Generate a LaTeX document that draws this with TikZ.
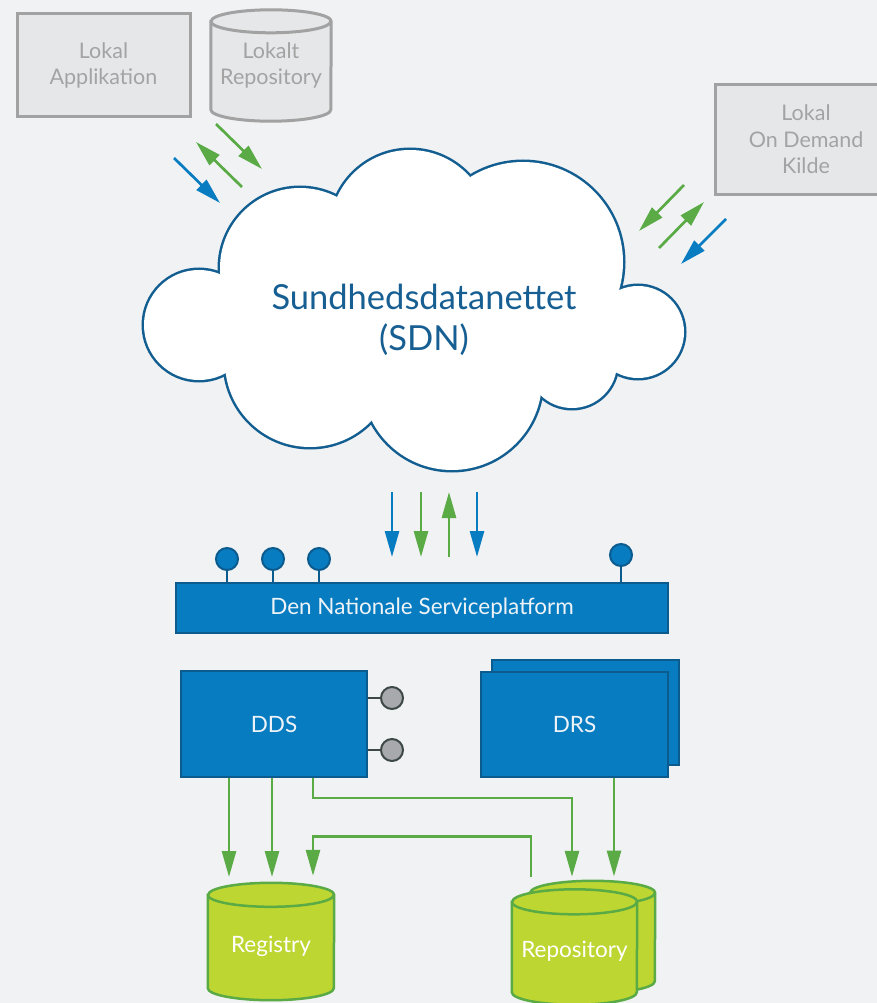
\documentclass[tikz,border=0pt]{standalone}
\usepackage{fontspec}
\setmainfont{Lato}
\usetikzlibrary{arrows.meta,positioning,backgrounds}

\definecolor{bgcol}{HTML}{F1F2F4}
\definecolor{localfill}{HTML}{E6E7E9}
\definecolor{localline}{HTML}{A2A2A2}
\definecolor{localtext}{HTML}{A3A3A3}
\definecolor{nspblue}{HTML}{087CC1}
\definecolor{nspline}{HTML}{0B5B8E}
\definecolor{nsptext}{HTML}{EEF3F8}
\definecolor{cloudline}{HTML}{135E91}
\definecolor{cloudtext}{HTML}{175F92}
\definecolor{flowgreen}{HTML}{5AAA46}
\definecolor{limefill}{HTML}{BDD631}
\definecolor{portgrey}{HTML}{A7A9AC}
\definecolor{portline}{HTML}{3D4846}

% outline of a database drum round a node: node, x radius, y radius, style
\newcommand{\drum}[4]{%
  \begin{scope}[on background layer]
    \path[#4] ([yshift=-#3]#1.north west) -- ([yshift=#3]#1.south west)
      arc[start angle=180, end angle=360, x radius=#2, y radius=#3]
      -- ([yshift=-#3]#1.north east)
      arc[start angle=0, end angle=180, x radius=#2, y radius=#3] -- cycle;
    \draw[#4, fill=none] ([yshift=-#3]#1.north west)
      arc[start angle=180, end angle=360, x radius=#2, y radius=#3];
  \end{scope}}

\begin{document}
\begin{tikzpicture}[x=1pt, y=1pt, on grid, >={Triangle[length=26pt,width=14pt]},
                    align=center]
    \tikzstyle{localbox} = [rectangle, draw=localline, fill=localfill, line width=3pt,
                            text=localtext, font=\fontsize{21.5}{26.5}\selectfont]
    \tikzstyle{localdrum} = [draw=localline, fill=localfill, line width=3pt]
    \tikzstyle{service} = [rectangle, draw=nspline, fill=nspblue, line width=2pt,
                           text=nsptext, font=\fontsize{22.5}{27}\selectfont]
    \tikzstyle{storebox} = [rectangle, inner sep=0pt, text=white,
                            font=\fontsize{22.5}{27}\selectfont]
    \tikzstyle{storedrum} = [draw=flowgreen, fill=limefill, line width=2.5pt]
    \tikzstyle{bluepin} = [circle, minimum size=22pt, inner sep=0pt, draw=nspline,
                           fill=nspblue, line width=2pt]
    \tikzstyle{greyport} = [circle, minimum size=22pt, inner sep=0pt, draw=portline,
                            fill=portgrey, line width=2pt]
    \tikzstyle{flowG} = [->, flowgreen, line width=2.7pt]
    \tikzstyle{flowB} = [->, nspblue, line width=2.7pt]

    \useasboundingbox (0,0) rectangle (877,-1003);
    \begin{scope}[on background layer]
      \fill[bgcol] (0,0) rectangle (877,-1003);
    \end{scope}

    % local systems
    \node (app) [localbox, minimum width=173pt, minimum height=103pt] at (103.5,-65.5)
          {Lokal\\Applikation};
    \node (localrepo) [storebox, text=localtext, font=\fontsize{21.5}{26.5}\selectfont,
                       minimum width=120pt, minimum height=111pt, right=167.5pt of app]
          {Lokalt\\Repository};
    \drum{localrepo}{60pt}{11.5pt}{localdrum}
    \node (kilde) [localbox, minimum width=182pt, minimum height=109pt] at (806,-139.5)
          {Lokal\\On Demand\\Kilde};

    % cloud
    \foreach \cx/\cy/\r in {199/325/55, 300/268/80, 410/230/80, 523/262/100,
                            638/332/46, 572/363/45, 452/380/90, 310/362/85}
      \draw[cloudline, line width=5pt] (\cx,-\cy) circle[radius=\r];
    \foreach \cx/\cy/\r in {199/325/55, 300/268/80, 410/230/80, 523/262/100,
                            638/332/46, 572/363/45, 452/380/90, 310/362/85}
      \fill[white] (\cx,-\cy) circle[radius=\r];
    \fill[white] (240,-285) rectangle (610,-370);
    \node (sdn) [text=cloudtext, font=\fontsize{34.5}{41}\selectfont] at (424,-320)
          {Sundhedsdatanettet\\(SDN)};

    % platform
    \node (nsp) [service, minimum width=492pt, minimum height=50pt, below=288pt of sdn,
                 xshift=-2pt] {Den Nationale Serviceplatform};
    \foreach \px/\py [count=\i] in {227/559, 273/559, 319/559, 621/555} {
      \node (pin\i) [bluepin] at (\px,-\py) {};
      \draw[nspline, line width=2pt] (pin\i) -- (pin\i |- nsp.north);
    }

    \node (dds) [service, minimum width=186pt, minimum height=106pt] at (274,-724) {DDS};
    \node (port1) [greyport, right=118pt of dds, yshift=26pt] {};
    \node (port2) [greyport, right=118pt of dds, yshift=-26pt] {};
    \draw[portline, line width=2pt] (port1) -- (port1 -| dds.east);
    \draw[portline, line width=2pt] (port2) -- (port2 -| dds.east);

    \node (drsback) [service, minimum width=187pt, minimum height=105pt] at (585.5,-712.5) {};
    \node (drs) [service, minimum width=187pt, minimum height=105pt, right=300.5pt of dds] {DRS};

    % storage
    \node (registry) [storebox, minimum width=126pt, minimum height=117pt, below=217.5pt of dds,
                      xshift=-3pt] {\raisebox{-10.5pt}[0pt][0pt]{Registry}};
    \drum{registry}{63pt}{12pt}{storedrum}
    \node (repoback) [storebox, minimum width=125pt, minimum height=112pt] at (592.5,-937) {};
    \drum{repoback}{62.5pt}{12pt}{storedrum}
    \node (repo) [storebox, minimum width=125pt, minimum height=115pt, below=223pt of drs]
          {\raisebox{-10.5pt}[0pt][0pt]{Repository}};
    \drum{repo}{62.5pt}{12.5pt}{storedrum}

    % traffic to and from the cloud
    \draw [flowB] (174,-158) -- (220,-203);
    \draw [flowG] (242,-187) -- (196,-142);
    \draw [flowG] (216,-124) -- (262,-169);
    \draw [flowG] (684,-185) -- (639,-231);
    \draw [flowG] (659,-248) -- (704,-202);
    \draw [flowB] (726,-219) -- (681,-264);

    \draw [flowB] ([shift={(-30,90)}]nsp.north) -- ([shift={(-30,25)}]nsp.north);
    \draw [flowG] ([shift={(-1,90)}]nsp.north) -- ([shift={(-1,25)}]nsp.north);
    \draw [flowG] ([shift={(27,25)}]nsp.north) -- ([shift={(27,90)}]nsp.north);
    \draw [flowB] ([shift={(55,90)}]nsp.north) -- ([shift={(55,25)}]nsp.north);

    \draw [flowG] ([xshift=-45pt]dds.south) -- ++(0,-99);
    \draw [flowG] ([xshift=-2pt]dds.south) -- ++(0,-99);
    \draw [flowG, shorten >=4pt] ([xshift=39pt]dds.south) -- ++(0,-20)
          -| ([xshift=-20.5pt]repoback.north);
    \draw [flowG, shorten >=7pt] ([shift={(-61.5,4)}]repoback.north) -- ++(0,40)
          -| ([xshift=42pt]registry.north);
    \draw [flowG] ([xshift=39.5pt]drs.south) -- ++(0,-99);
\end{tikzpicture}
\end{document}
